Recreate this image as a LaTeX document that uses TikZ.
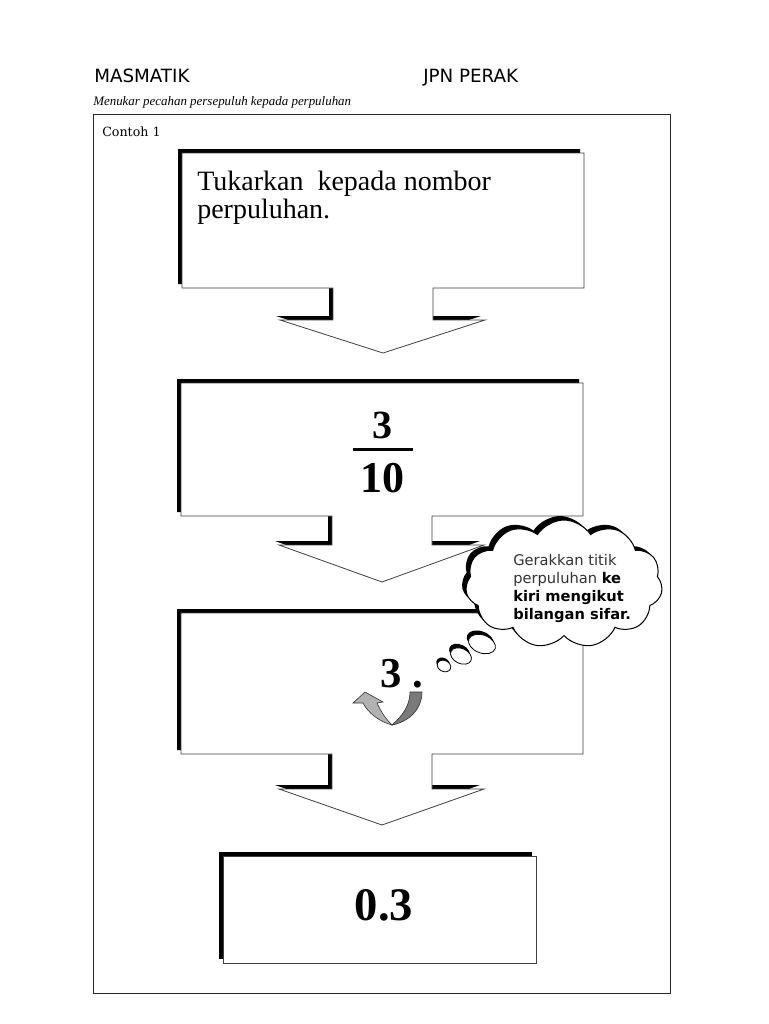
\documentclass[tikz,border=0pt]{standalone}
\usepackage{fontspec}
\setmainfont{Liberation Serif}
\newfontfamily\dvsans{DejaVu Sans}
\newfontfamily\dvserif{DejaVu Serif}
\usetikzlibrary{shapes.symbols}
\tikzset{
  shade/.style={fill=black,draw=none},
  boxfill/.style={fill=white,draw=black!75,line width=0.6pt},
  cloudbase/.style={cloud,cloud puffs=11,cloud puff arc=115,aspect=1.54,
    minimum width=147.75pt,minimum height=96pt,inner sep=0pt},
}
% L T B S P : left, top, box bottom, shelf, tip
\newcommand\callout[5]{%
  \fill[shade,shift={(-4,-4)}] (#1,#2) -- (#1+402,#2) -- (#1+402,#3) -- (#1+251,#3) -- (#1+251,#4) -- (#1+303,#4) -- (#1+201,#5) -- (#1+98,#4) -- (#1+151,#4) -- (#1+151,#3) -- (#1,#3) -- cycle;
  \filldraw[boxfill] (#1,#2) -- (#1+402,#2) -- (#1+402,#3) -- (#1+251,#3) -- (#1+251,#4) -- (#1+303,#4) -- (#1+201,#5) -- (#1+98,#4) -- (#1+151,#4) -- (#1+151,#3) -- (#1,#3) -- cycle;
}
\begin{document}
\begin{tikzpicture}[x=0.75pt,y=-0.75pt]
\useasboundingbox[fill=white] (0,0) rectangle (768,1024);
% header
\node[anchor=base west,inner sep=0,font=\dvsans\fontsize{13.7}{15}\selectfont] (h1) at (94,83) {MASMATIK};
\node[anchor=base west,inner sep=0,font=\dvsans\fontsize{13.7}{15}\selectfont] (h2) at (423,83) {JPN PERAK};
\node[anchor=base west,inner sep=0,font=\itshape\fontsize{9.7}{12}\selectfont] (sub) at (93,105) {Menukar pecahan persepuluh kepada perpuluhan};
% frame
\draw[line width=0.75pt,black!85] (93,114) rectangle (670,993);
\node[anchor=base west,inner sep=0,font=\dvserif\fontsize{9.5}{11}\selectfont] (c1) at (102,137) {Contoh 1};
% callouts
\callout{182}{153}{288}{320}{353}
\callout{181}{383}{516}{545}{582}
\callout{181}{613}{754}{789}{825}
% final box
\fill[shade] (219,852) rectangle (532,959);
\filldraw[boxfill] (223,856) rectangle (536,963);
% box 1 text
\node[anchor=base west,inner sep=0,font=\fontsize{21}{21}\selectfont] (t1) at (197,190) {Tukarkan\ \ kepada nombor};
\node[anchor=base west,inner sep=0,font=\fontsize{21}{21}\selectfont] (t2) at (197,218) {perpuluhan.};
% fraction
\node[anchor=base,inner sep=0,font=\bfseries\fontsize{30}{30}\selectfont] (num) at (382,438) {3};
\draw[line width=2.25pt] (353,449) -- (413,449);
\node[anchor=base,inner sep=0,font=\bfseries\fontsize{33}{33}\selectfont] (den) at (382.5,492) {10};
% box 3
\node[anchor=base west,inner sep=0,font=\bfseries\fontsize{32}{32}\selectfont] (three) at (380,687) {3\kern 8.5pt.};
% U arrow
\filldraw[fill=black!52,draw=black!80,line width=0.45pt]
  (410,692) -- (422,692) .. controls (422,710) and (408,722) .. (392,725)
  .. controls (402,716) and (410,706) .. (410,692) -- cycle;
\filldraw[fill=black!30,draw=black!80,line width=0.45pt]
  (392,725) .. controls (380,722) and (368,713) .. (363,703) -- (353,703) -- (365,692) -- (383,702) -- (377,703)
  .. controls (381,712) and (386,719) .. (392,725) -- cycle;
% final text
\node[anchor=base,inner sep=0,font=\bfseries\fontsize{35}{35}\selectfont] (res) at (384,920) {0.3};
% cloud
\node[cloudbase,shade] (cls) at (560,580) {};
\node[cloudbase,fill=white,draw=black,line width=0.75pt] (cl) at (564,584) {};
\fill[shade,rotate around={-20:(482,644)}] (479,641) ellipse [x radius=14,y radius=9];
\filldraw[fill=white,draw=black,line width=0.6pt,rotate around={-20:(482,644)}] (482,644) ellipse [x radius=14,y radius=9];
\fill[shade,rotate around={-25:(461,656)}] (458,653) ellipse [x radius=11,y radius=7.5];
\filldraw[fill=white,draw=black,line width=0.6pt,rotate around={-25:(461,656)}] (461,656) ellipse [x radius=11,y radius=7.5];
\fill[shade,rotate around={-25:(444,666)}] (442,664) ellipse [x radius=7,y radius=5.5];
\filldraw[fill=white,draw=black,line width=0.6pt,rotate around={-25:(444,666)}] (444,666) ellipse [x radius=7,y radius=5.5];
\node[anchor=base west,inner sep=0,font=\dvsans\fontsize{11}{13}\selectfont,text=black!80] (g1) at (513,565) {Gerakkan titik};
\node[anchor=base west,inner sep=0,font=\dvsans\fontsize{11}{13}\selectfont,text=black!80] (g2) at (513,583) {perpuluhan \textbf{\color{black}ke}};
\node[anchor=base west,inner sep=0,font=\dvsans\bfseries\fontsize{11}{13}\selectfont] (g3) at (513,601) {kiri mengikut};
\node[anchor=base west,inner sep=0,font=\dvsans\bfseries\fontsize{11}{13}\selectfont] (g4) at (513,619) {bilangan sifar.};
\end{tikzpicture}
\end{document}
